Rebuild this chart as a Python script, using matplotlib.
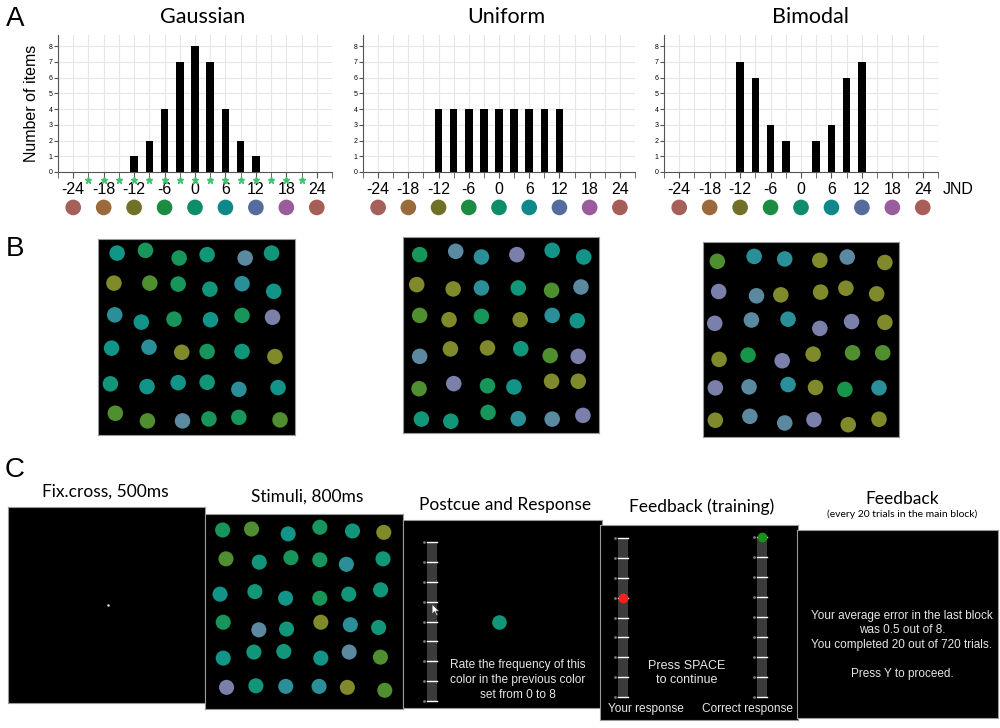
import numpy as np
import matplotlib.pyplot as plt
from matplotlib.patches import Rectangle, Polygon

plt.rcParams['font.family'] = ['Liberation Sans', 'DejaVu Sans']
plt.rcParams['axes.unicode_minus'] = False

## Datos del panel A (histogramas de la distribucion de colores)
jnd_ticks = [-24, -18, -12, -6, 0, 6, 12, 18, 24]
jnd_minor = list(range(-27, 28, 3))
bar_pos = [-12, -9, -6, -3, 0, 3, 6, 9, 12]
gauss_counts = [1, 2, 4, 7, 8, 7, 4, 2, 1]
unif_counts = [4, 4, 4, 4, 4, 4, 4, 4, 4]
bimodal_counts = [7, 6, 3, 2, 0, 2, 3, 6, 7]
star_pos = list(range(-21, 22, 3))
wheel_colors = ['#a5605a', '#9a6a3c', '#717028', '#1b8c42', '#0f8c6a',
                '#0e8888', '#556c9c', '#9a5c9c', '#a85e58']

# Colores de los estimulos segun su distancia en JND al centro
stim_palette = {-12: '#808a2a', -9: '#4f8f30', -6: '#16964a', -3: '#18955a',
                0: '#12967a', 3: '#139488', 6: '#2a8f98', 9: '#5b8aa0', 12: '#7a80aa'}

## Datos del panel B (posiciones en % de la pantalla y JND de cada punto)
gauss_x = [9.7, 24.1, 41.2, 55.4, 74.7, 88.1,
           8.1, 26.3, 40.7, 56.8, 73.1, 89.2,
           8.5, 22.0, 38.6, 57.1, 73.1, 88.6,
           6.9, 25.9, 42.5, 55.4, 73.1, 89.8,
           6.3, 24.9, 40.7, 55.4, 71.5, 91.4,
           8.8, 25.1, 42.9, 56.3, 71.5, 92.4]
gauss_y = [7.2, 5.8, 9.7, 8.0, 9.7, 7.2,
           22.5, 22.5, 23.0, 25.6, 22.8, 26.7,
           38.7, 42.4, 40.9, 41.2, 39.0, 39.9,
           55.7, 55.2, 57.8, 57.4, 57.4, 60.0,
           73.9, 75.3, 73.3, 73.1, 76.7, 75.8,
           88.9, 92.8, 92.8, 91.8, 91.0, 92.3]
gauss_jnd = [3, -3, -3, 0, 9, 0,
             -12, -9, -3, 0, 6, 3,
             6, 3, -3, 3, -3, 12,
             3, 6, -12, -3, 0, -12,
             0, 3, 3, 0, 6, 3,
             -9, -9, 9, -3, -3, -9]

unif_x = [8.5, 26.9, 40.0, 58.1, 76.1, 92.2,
          7.0, 25.6, 40.0, 58.8, 75.8, 90.8,
          8.5, 23.5, 40.0, 59.8, 76.1, 88.9,
          8.5, 24.2, 43.1, 60.1, 75.1, 89.4,
          8.2, 25.9, 43.1, 56.6, 75.8, 89.4,
          9.4, 24.4, 43.4, 58.8, 76.1, 91.8]
unif_y = [9.0, 7.3, 10.2, 9.0, 6.8, 10.2,
          24.3, 26.5, 26.0, 26.0, 27.2, 25.5,
          40.0, 42.2, 40.5, 42.2, 40.0, 42.7,
          60.9, 57.1, 56.6, 57.0, 60.5, 60.9,
          77.4, 74.8, 75.9, 76.5, 73.6, 73.6,
          92.9, 94.0, 89.5, 92.7, 92.9, 91.0]
unif_jnd = [-3, 9, 6, 12, 3, 3,
            -12, -12, 6, 0, -9, 9,
            -9, -12, -3, -12, 6, 3,
            9, -12, -12, 0, -9, 12,
            -9, 12, -3, 3, -12, -12,
            0, 0, -3, 6, 9, 12]

bimod_x = [7.3, 26.1, 41.7, 59.6, 73.6, 92.8,
           8.0, 27.3, 39.7, 60.0, 72.9, 88.6,
           6.0, 24.7, 43.4, 59.6, 75.8, 92.8,
           8.2, 23.0, 40.4, 56.2, 76.3, 91.7,
           6.3, 23.5, 43.4, 57.4, 72.4, 89.8,
           6.3, 23.9, 41.7, 56.6, 74.1, 89.8]
bimod_y = [9.9, 7.4, 8.7, 9.4, 7.7, 10.5,
           25.4, 27.6, 27.1, 25.7, 23.7, 26.6,
           41.7, 40.0, 39.6, 44.3, 40.8, 41.2,
           60.2, 58.0, 60.9, 57.5, 56.8, 56.8,
           74.8, 74.3, 73.1, 74.6, 75.6, 74.8,
           91.4, 89.4, 92.8, 91.1, 93.7, 90.9]
bimod_jnd = [-9, 6, 6, -12, 9, -12,
             12, 9, -12, -12, -12, -12,
             12, 9, 6, 12, 12, -12,
             -12, -6, 12, -12, -9, -9,
             12, 9, 6, -12, -6, 6,
             -12, 9, 9, 12, -12, -12]

## Datos del panel C (pantalla de estimulos del ensayo)
trial_x = [8.9, 23.5, 42.0, 58.0, 74.5, 90.3,
           10.6, 27.4, 43.4, 58.0, 71.4, 89.9,
           7.6, 25.2, 40.7, 58.0, 72.6, 88.7,
           9.2, 27.2, 41.2, 58.5, 73.4, 87.7,
           9.2, 24.7, 39.8, 58.5, 72.8, 88.6,
           10.9, 25.7, 40.8, 57.6, 71.9, 90.8]
trial_y = [8.2, 7.7, 10.2, 6.8, 8.7, 9.4,
           23.0, 24.7, 22.4, 23.5, 25.8, 23.0,
           41.1, 39.8, 43.2, 43.2, 41.1, 38.9,
           55.5, 59.4, 59.0, 55.5, 56.8, 58.2,
           73.9, 70.8, 70.5, 73.9, 70.8, 73.4,
           88.9, 88.1, 88.4, 88.4, 88.9, 90.4]
trial_jnd = [-3, -9, 3, -3, 0, -12,
             -9, 0, -3, -3, 6, 0,
             3, 0, 3, -3, 0, 0,
             -3, 9, 0, -12, 6, 0,
             3, 0, 0, 3, 9, -9,
             12, 0, 6, 6, -12, -9]

slider_levels = list(range(9))
your_response = 5
correct_response = 8

W, H = 1000, 728
fig = plt.figure(figsize=(10, 7.28), dpi=100)


def caja(x0, y0, x1, y1):
    # Convierte una caja en pixeles (origen arriba a la izquierda) a fraccion de figura
    return [x0 / W, 1 - y1 / H, (x1 - x0) / W, (y1 - y0) / H]


def texto(x, y, s, **kw):
    kw.setdefault('ha', 'center')
    kw.setdefault('va', 'center')
    fig.text(x / W, 1 - y / H, s, **kw)


def histograma(box, counts, titulo, tx):
    ax = fig.add_axes(caja(*box))
    ax.bar(bar_pos, counts, width=1.5, color='black', zorder=3)
    ax.set_xlim(-27, 27)
    ax.set_ylim(0, 8.7)
    ax.set_xticks(jnd_ticks)
    ax.set_xticks(jnd_minor, minor=True)
    ax.set_yticks(range(9))
    ax.grid(True, which='both', color='#e6e6e6', lw=0.8)
    ax.set_axisbelow(True)
    ax.tick_params(axis='x', which='both', length=4, color='#555555', labelsize=11.5, pad=3)
    ax.tick_params(axis='y', length=3, color='#555555', labelsize=5, pad=1)
    for s in ['top', 'right']:
        ax.spines[s].set_visible(False)
    for s in ['left', 'bottom']:
        ax.spines[s].set_color('#555555')
    ax.scatter(jnd_ticks, [-2.25] * len(jnd_ticks), s=105, c=wheel_colors, clip_on=False, zorder=4)
    texto(tx, 17, titulo, fontsize=15.5, family=['Lato', 'DejaVu Sans'])
    return ax


def pantalla(x0, y0, x1, y1):
    ax = fig.add_axes(caja(x0, y0, x1, y1))
    ax.set_facecolor('black')
    ax.set_xlim(0, 100)
    ax.set_ylim(100, 0)
    ax.set_xticks([])
    ax.set_yticks([])
    for s in ax.spines.values():
        s.set_color('#9a9a9a')
        s.set_linewidth(0.8)
    return ax


def puntos(ax, xs, ys, jnds, size=125):
    cols = [stim_palette[j] for j in jnds]
    ax.scatter(xs, ys, s=size, c=cols, linewidths=0)


def slider(ax, xc, y_top, y_bot, nivel=None, color=None):
    ancho = 5
    ax.add_patch(Rectangle((xc - ancho / 2, y_top), ancho, y_bot - y_top, color='#3b3b3b', lw=0))
    niveles = np.array(slider_levels)
    ys = y_bot - niveles / 8 * (y_bot - y_top)
    for y in ys:
        ax.plot([xc - ancho / 2, xc + ancho / 2], [y, y], color='white', lw=1)
    ax.plot([xc - ancho / 2 - 1.5] * len(ys), ys, ls='none', marker='o', ms=1, color='#777777')
    if nivel is not None:
        ax.plot(xc, y_bot - nivel / 8 * (y_bot - y_top), marker='o', ms=6, color=color)


# ----------------- Panel A -----------------
texto(15, 19, 'A', fontsize=20)
ax1 = histograma((58, 35, 332, 172), gauss_counts, 'Gaussian', 203)
ax1.plot(star_pos, [-0.5] * len(star_pos), ls='none', marker='*', color='#3cc46e', ms=5, clip_on=False, zorder=4)
texto(32, 103, 'Number of items', fontsize=11.5, rotation=90)
histograma((363, 35, 635, 172), unif_counts, 'Uniform', 506)
histograma((664, 35, 938, 172), bimodal_counts, 'Bimodal', 810)
texto(958, 190, 'JND', fontsize=11.5)

# ----------------- Panel B -----------------
texto(15, 249, 'B', fontsize=20)
b1 = pantalla(98, 239, 295, 435)
puntos(b1, gauss_x, gauss_y, gauss_jnd)
b2 = pantalla(403, 237, 599, 433)
puntos(b2, unif_x, unif_y, unif_jnd)
b3 = pantalla(703, 242, 899, 437)
puntos(b3, bimod_x, bimod_y, bimod_jnd)

# ----------------- Panel C -----------------
texto(15, 470, 'C', fontsize=20)
tit = dict(fontsize=12.5, family=['Lato', 'DejaVu Sans'])
texto(105, 492, 'Fix.cross, 500ms', **tit)
texto(307, 497, 'Stimuli, 800ms', **tit)
texto(505, 505, 'Postcue and Response', **tit)
texto(702, 507, 'Feedback (training)', **tit)
texto(902, 499, 'Feedback', **tit)
texto(902, 514, '(every 20 trials in the main block)', fontsize=7.5, family=['Lato', 'DejaVu Sans'])

# Cruz de fijacion
c1 = pantalla(8, 507, 205, 703)
c1.plot(50.8, 50, marker='o', ms=0.8, color='#dddddd')

# Estimulos
c2 = pantalla(205, 514, 403, 709)
puntos(c2, trial_x, trial_y, trial_jnd, size=118)

# Postcue y respuesta
c3 = pantalla(403, 520, 602, 708)
slider(c3, 14.6, 11.7, 96.3)
c3.scatter([48.2], [54.3], s=110, c=[stim_palette[0]], linewidths=0)
flecha = np.array([[0, 0], [0, 16], [4, 12], [7, 18], [9, 17], [6, 11], [11, 11]]) * [0.32, 0.34] + [14.6, 44.7]
c3.add_patch(Polygon(flecha, closed=True, facecolor='white', edgecolor='#333333', lw=0.5))
c3.text(57.8, 85.1, 'Rate the frequency of this\ncolor in the previous color\nset from 0 to 8',
        color='#e6e6e6', fontsize=8.6, ha='center', va='center', linespacing=1.3)

# Retroalimentacion de entrenamiento
c4 = pantalla(600, 525, 798, 720)
slider(c4, 11.6, 6.7, 88.2, your_response, '#ff1f1f')
slider(c4, 81.8, 6.2, 88.2, correct_response, '#1a8f1a')
c4.text(43.9, 75.9, 'Press SPACE\nto continue', color='#e6e6e6', fontsize=9,
        ha='center', va='center', linespacing=1.3)
c4.text(23.2, 94.4, 'Your response', color='#e6e6e6', fontsize=8.6, ha='center', va='center')
c4.text(74.7, 94.4, 'Correct response', color='#e6e6e6', fontsize=8.6, ha='center', va='center')

# Retroalimentacion del bloque principal
c5 = pantalla(797, 530, 998, 718)
c5.text(52.2, 61.2, 'Your average error in the last block\nwas 0.5 out of 8.\n'
        'You completed 20 out of 720 trials.\n\nPress Y to proceed.',
        color='#e6e6e6', fontsize=8.5, ha='center', va='center', linespacing=1.3)

fig.savefig('out.png', dpi=100)
